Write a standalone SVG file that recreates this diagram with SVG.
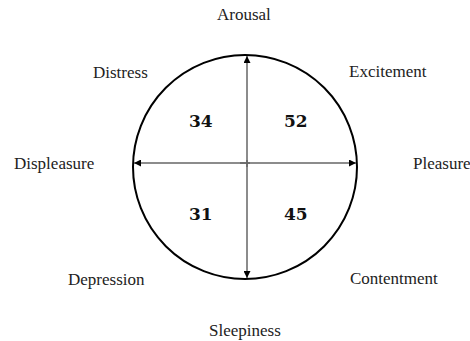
<svg xmlns="http://www.w3.org/2000/svg" width="470" height="341" viewBox="0 0 470 341">
<style>
.lbl{font-family:"Liberation Serif","Times New Roman",serif;font-size:17px;fill:#222}
.num{font-family:"DejaVu Serif",serif;font-weight:bold;font-size:17px;fill:#111}
.ax{stroke:#666;stroke-width:1.5;fill:none}
</style>
<defs>
<marker id="ah" viewBox="0 0 10 10" refX="10" refY="5" markerWidth="7" markerHeight="7" markerUnits="userSpaceOnUse" orient="auto">
<path d="M0,0 L10,5 L0,10 z" fill="#000"/>
</marker>
</defs>
<rect width="470" height="341" fill="#fff"/>
<g id="circle">
<ellipse cx="245" cy="167" rx="112" ry="112" fill="none" stroke="#000" stroke-width="2"/>
</g>
<g id="connectors">
<line class="ax" x1="247" y1="167" x2="247" y2="56" marker-end="url(#ah)"/>
<line class="ax" x1="247" y1="160" x2="247" y2="278" marker-end="url(#ah)"/>
<line class="ax" x1="250" y1="163" x2="134" y2="163" marker-end="url(#ah)"/>
<line class="ax" x1="240" y1="163" x2="356" y2="163" marker-end="url(#ah)"/>
</g>
<g id="arousal"><text class="lbl" x="217" y="20">Arousal</text></g>
<g id="excitement"><text class="lbl" x="349" y="77">Excitement</text></g>
<g id="distress"><text class="lbl" x="93" y="78">Distress</text></g>
<g id="displeasure"><text class="lbl" x="14" y="169">Displeasure</text></g>
<g id="pleasure"><text class="lbl" x="413" y="169">Pleasure</text></g>
<g id="depression"><text class="lbl" x="68" y="285">Depression</text></g>
<g id="contentment"><text class="lbl" x="350" y="284">Contentment</text></g>
<g id="sleepiness"><text class="lbl" x="209" y="336">Sleepiness</text></g>
<g id="q34"><text class="num" x="189" y="127">34</text></g>
<g id="q52"><text class="num" x="284" y="127">52</text></g>
<g id="q31"><text class="num" x="189" y="220">31</text></g>
<g id="q45"><text class="num" x="284" y="220">45</text></g>
</svg>
